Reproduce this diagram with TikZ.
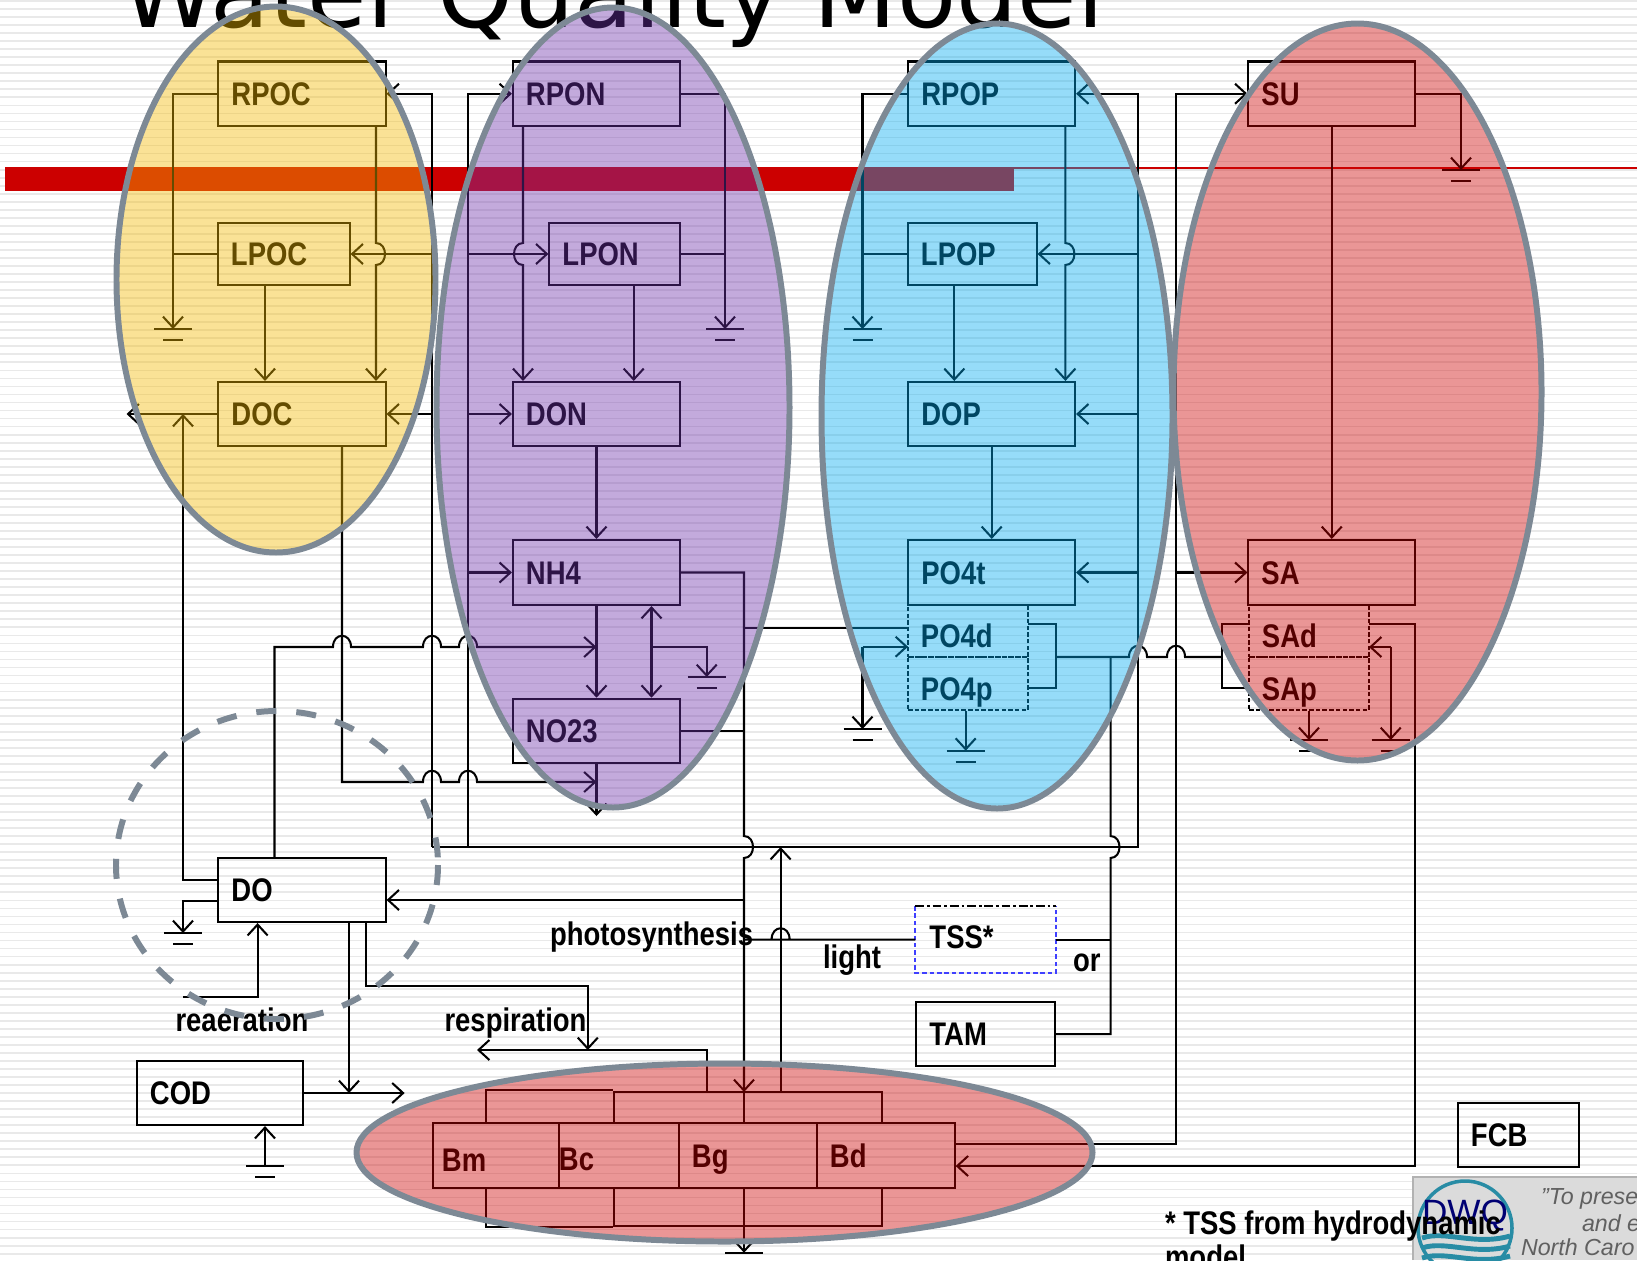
\documentclass[tikz,border=0pt]{standalone}
\usepackage{fontspec}
\usepackage{tikz}
\usetikzlibrary{calc,arrows.meta}
\setmainfont{Liberation Sans}
\newfontfamily\boxfont{Liberation Sans}[FakeStretch=.84]
\newfontfamily\titlefont{DejaVu Sans}

\definecolor{wqred}{HTML}{CC0000}
\definecolor{wqyellow}{RGB}{243,185,0}
\definecolor{wqpurple}{RGB}{110,49,171}
\definecolor{wqblue}{RGB}{0,170,240}
\definecolor{wqrim}{RGB}{125,137,149}
\definecolor{wqteal}{RGB}{40,140,165}

% small jumps of one wire over another
\newcommand{\hoph}[1]{-- ($(#1)+(-9,0)$) .. controls +(0,-15) and +(0,-15) .. ($(#1)+(9,0)$)}
\newcommand{\hopv}[2]{-- ($(#1)+(0,-11)$) .. controls +(#2,0) and +(#2,0) .. ($(#1)+(0,11)$)}

\tikzset{
    wqtext/.style={font=\boxfont\bfseries\fontsize{9.3}{7.4}\selectfont},
    wqbox/.style 2 args={draw, wqtext, inner xsep=0pt, inner ysep=0pt, text width=#1, minimum height=#2,
        text height=.235cm, text depth=0pt, execute at begin node=\hspace*{.13cm}},
    dashbox/.style 2 args={wqbox={#1}{#2}, dash pattern=on 1.3pt off .6pt, text height=.33cm},
    wqlabel/.style={wqtext, anchor=base west, inner sep=0pt},
    motto/.style={anchor=base west, inner sep=0pt, text=gray!75!black, font=\itshape\fontsize{6.6}{8}\selectfont},
    flow/.style={-{Straight Barb[length=3.1pt,width=5.7pt]}},
    flowboth/.style={{Straight Barb[length=3.1pt,width=5.7pt]}-{Straight Barb[length=3.1pt,width=5.7pt]}},
    blob/.style={draw=wqrim, line width=1.7pt, fill opacity=.41, draw opacity=1},
    stripe/.style={draw=gray!17, line width=.5pt},
    gnd/.pic={\draw (-19,0) -- (19,0); \draw (-10,11) -- (10,11);},
}

\begin{document}
\begin{tikzpicture}[x=.01cm, y=-.01cm, line width=.58pt]
    \useasboundingbox (0,0) rectangle (1637,1260);
    \clip (0,0) rectangle (1637,1260);

    % slide background
    \foreach \y in {1,9.03,...,1260} {\draw[stripe] (0,\y) -- (1637,\y);}
    \node[anchor=base west, inner sep=0pt, font=\titlefont\fontsize{27.5}{30}\selectfont] (title) at (120,27) {Water Quality Model};
    \fill[wqred] (5,167) rectangle (1014,191);
    \draw[wqred, line width=.6pt] (1014,168) -- (1637,168);

    % logo
    \fill[gray!28] (1413,1177) rectangle (1637,1260);
    \draw[gray!60, line width=.7pt] (1413,1260) -- (1413,1177) -- (1637,1177);
    \draw[wqteal, line width=1pt] (1465,1228) circle (47);
    \node[inner sep=0pt, text=blue!45!black, font=\fontsize{10}{10}\selectfont] (dwq) at (1465,1216) {DWQ};
    \foreach \y in {1238,1248,1258} {\draw[wqteal, line width=1.4pt] (1422,\y) .. controls (1445,\y-8) and (1475,\y+8) .. (1510,\y-2);}
    \node[motto] (motA) at (1540,1204) {"To prese};
    \node[motto] (motB) at (1581,1231) {and e};
    \node[motto] (motC) at (1520,1255) {North Caro};

    % boxes
    \node[wqbox={1.67cm}{.645cm}] (RPOC) at (302,93.75) {RPOC};
    \node[wqbox={1.315cm}{.62cm}] (LPOC) at (283.75,254) {LPOC};
    \node[wqbox={1.67cm}{.64cm}] (DOC) at (302,414) {DOC};
    \node[wqbox={1.67cm}{.645cm}] (RPON) at (596.5,93.75) {RPON};
    \node[wqbox={1.305cm}{.62cm}] (LPON) at (614.75,254) {LPON};
    \node[wqbox={1.67cm}{.64cm}] (DON) at (596.5,414) {DON};
    \node[wqbox={1.67cm}{.65cm}] (NH4) at (596.5,572.5) {NH4};
    \node[wqbox={1.67cm}{.645cm}] (NO23) at (596.5,731) {NO23};
    \node[wqbox={1.666cm}{.645cm}] (RPOP) at (991.7,93.75) {RPOP};
    \node[wqbox={1.285cm}{.62cm}] (LPOP) at (972.25,254) {LPOP};
    \node[wqbox={1.666cm}{.64cm}] (DOP) at (991.7,414) {DOP};
    \node[wqbox={1.666cm}{.65cm}] (PO4t) at (991.7,572.5) {PO4t};
    \node[dashbox={1.2cm}{.52cm}] (PO4d) at (968,631) {PO4d};
    \node[dashbox={1.2cm}{.53cm}] (PO4p) at (968,683.5) {PO4p};
    \node[wqbox={1.665cm}{.645cm}] (SU) at (1331.75,93.75) {SU};
    \node[wqbox={1.665cm}{.65cm}] (SA) at (1331.75,572.5) {SA};
    \node[dashbox={1.2cm}{.52cm}] (SAd) at (1309,631) {SAd};
    \node[dashbox={1.2cm}{.53cm}] (SAp) at (1309,683.5) {SAp};
    \node[wqbox={1.67cm}{.64cm}] (DO) at (302,890) {DO};
    \node[wqbox={1.66cm}{.64cm}] (COD) at (220,1093) {COD};
    \node[wqbox={1.38cm}{.65cm}, draw=none, text height=.18cm] (TSS) at (985.5,939.5) {TSS*};
    \draw[blue!75!white, dash pattern=on 1.3pt off .8pt] (TSS.north west) -- (TSS.south west) -- (TSS.south east) -- (TSS.north east);
    \draw[dash pattern=on 2.5pt off .8pt on .8pt off .8pt] (TSS.north west) -- (TSS.north east);
    \node[wqbox={1.38cm}{.645cm}] (TAM) at (985.5,1034) {TAM};
    \node[wqbox={1.21cm}{.64cm}] (FCB) at (1518.5,1134.7) {FCB};
    \node[wqbox={1.26cm}{.65cm}, text height=.32cm, execute at begin node=\hspace*{-.04cm}] (Bm) at (496,1155.5) {Bm};
    \node[wqbox={1.2cm}{.65cm}, text height=.29cm, execute at begin node=\hspace*{-.13cm}] (Bc) at (619,1155.5) {Bc};
    \node[wqbox={1.38cm}{.65cm}] (Bg) at (748,1155.5) {Bg};
    \node[wqbox={1.376cm}{.65cm}] (Bd) at (885.8,1155.5) {Bd};

    % labels
    \node[wqlabel] (photo) at (549,945.4) {photosynthesis};
    \node[wqlabel] (light) at (822,968.7) {light};
    \node[wqlabel] (or) at (1072,971) {or};
    \node[wqlabel] (reaeration) at (174.5,1031) {reaeration};
    \node[wqlabel] (respiration) at (443.5,1031) {respiration};
    \node[wqtext, anchor=north west, inner sep=0pt, align=left] (note) at (1164,1210) {* TSS from hydrodynamic\\model};

    % wiring points
    \coordinate (busC) at (432,93.75);
    \coordinate (busN) at (468,93.75);
    \coordinate (busP) at (1138,93.75);
    \coordinate (busS) at (1176,93.75);
    \coordinate (busBot) at (432,847);
    \coordinate (busA) at (744,572.5);
    \coordinate (busT) at (1110.5,657);
    \coordinate (busR) at (1415,1166);
    \coordinate (gndRPOC) at (173,329);
    \coordinate (gndRPON) at (725,329);
    \coordinate (gndRPOP) at (862.5,329);
    \coordinate (gndSU) at (1461,170);
    \coordinate (gndDen) at (706.7,677);
    \coordinate (gndPd) at (862.5,729);
    \coordinate (gndPp) at (965.7,750.7);
    \coordinate (gndSp) at (1309,740);
    \coordinate (gndSd) at (1390.7,740);
    \coordinate (gndDO) at (183,933);
    \coordinate (gndCOD) at (265,1166);
    \coordinate (gndBio) at (744,1252.7);
    \coordinate (dropC) at (376,254);
    \coordinate (dropN) at (523,254);
    \coordinate (dropP) at (1065.4,254);
    \coordinate (dropLC) at (265,300);
    \coordinate (dropLN) at (633.7,300);
    \coordinate (dropLP) at (954.3,300);
    \coordinate (dropNO) at (651.5,650);
    \coordinate (dropD) at (342,782);
    \coordinate (dropO) at (349,1093);
    \coordinate (wireDO) at (274.5,647);
    \coordinate (wireP) at (744,628);
    \coordinate (wireDOr) at (744,900);
    \coordinate (wireDOl) at (218,901);
    \coordinate (wireSAd) at (1369,624);
    \coordinate (wireSd) at (1369,647);
    \coordinate (wirePd) at (908,646.7);
    \coordinate (wireBd) at (954.6,1144);
    \coordinate (feedL) at (183,880);
    \coordinate (tailDOC) at (126.5,414);
    \coordinate (tailNO) at (596.5,816);
    \coordinate (tailCOD) at (404.6,1093);
    \coordinate (tailR) at (477,1050);
    \coordinate (reaer) at (183,997);
    \coordinate (dropR) at (257.6,997);
    \coordinate (respA) at (365.8,986);
    \coordinate (respB) at (587.8,1050);
    \coordinate (bioR) at (706.6,1092);
    \coordinate (bioA) at (744,1092);
    \coordinate (upB) at (780.6,1092);
    \coordinate (brkP) at (1056,657);
    \coordinate (brkPa) at (1028,624);
    \coordinate (brkPb) at (1028,688);
    \coordinate (brkS) at (1222,657);
    \coordinate (brkSa) at (1249,624);
    \coordinate (brkSb) at (1249,688);
    \coordinate (linkA) at (486,1090);
    \coordinate (linkB) at (612.6,1090);
    \coordinate (linkC) at (614.4,1092);
    \coordinate (linkD) at (882,1092);
    \coordinate (linkE) at (486,1227);
    \coordinate (linkF) at (612.6,1227);
    \coordinate (linkG) at (614.4,1226.4);
    \coordinate (linkH) at (882,1226.4);

    % carbon
    \draw[flow] (RPOC.west) -| (gndRPOC);
    \draw (LPOC.west) -- (gndRPOC |- LPOC.west);
    \draw[flow] (dropC |- RPOC.south) \hopv{dropC}{12} -- (dropC |- DOC.north);
    \draw[flow] (dropLC |- LPOC.south) -- (dropLC |- DOC.north);
    \draw[flow] (busBot) -- (busC) -- (RPOC.east);
    \draw[flow] (busC |- LPOC.east) -- (LPOC.east);
    \draw[flow] (busC |- DOC.east) -- (DOC.east);
    \draw[flow] (DOC.west) -- (tailDOC);
    \draw[flow] (dropD |- DOC.south) -- (dropD) \hoph{busC |- dropD} \hoph{busN |- dropD} -- (NO23.south |- dropD);

    % nitrogen
    \draw[flow] (RPON.east) -| (gndRPON);
    \draw (LPON.east) -- (gndRPON |- LPON.east);
    \draw[flow] (dropN |- RPON.south) \hopv{dropN}{-12} -- (dropN |- DON.north);
    \draw[flow] (dropLN |- LPON.south) -- (dropLN |- DON.north);
    \draw[flow] (busN |- busBot) -- (busN) -- (RPON.west);
    \draw[flow] (busN |- LPON.west) -- (LPON.west);
    \draw[flow] (busN |- DON.west) -- (DON.west);
    \draw[flow] (busN |- NH4.west) -- (NH4.west);
    \draw[flow] (DON.south) -- (NH4.north);
    \draw[flow] (NH4.south) -- (NO23.north);
    \draw[flowboth] (dropNO |- NH4.south) -- (dropNO |- NO23.north);
    \draw[flow] (dropNO |- wireDO) -| (gndDen);
    \draw[flow] (NO23.south) -- (tailNO);
    \draw[flow] (NH4.east) -- (busA) \hopv{busA |- busBot}{12} -- (bioA);
    \draw (bioA) -- (bioA |- Bg.north);
    \draw (NO23.east) -- (busA |- NO23.east);
    \draw (wireP) -- (wireP -| PO4d.west);

    % phosphorus
    \draw[flow] (RPOP.west) -| (gndRPOP);
    \draw (LPOP.west) -- (gndRPOP |- LPOP.west);
    \draw[flow] (dropP |- RPOP.south) \hopv{dropP}{12} -- (dropP |- DOP.north);
    \draw[flow] (dropLP |- LPOP.south) -- (dropLP |- DOP.north);
    \draw[flow] (busBot) -- (busP |- busBot) -- (busP) -- (RPOP.east);
    \draw[flow] (busP |- LPOP.east) -- (LPOP.east);
    \draw[flow] (busP |- DOP.east) -- (DOP.east);
    \draw[flow] (busP |- PO4t.east) -- (PO4t.east);
    \draw[flow] (DOP.south) -- (PO4t.north);
    \draw[flow] (gndPd |- wirePd) -- (wirePd);
    \draw[flow] (gndPd |- wirePd) -- (gndPd);
    \draw[flow] (gndPp |- PO4p.south) -- (gndPp);
    \draw (brkPa) -- (brkP |- brkPa) -- (brkP |- brkPb) -- (brkPb);
    \draw (brkP) \hoph{busP |- brkP} \hoph{busS |- brkP} -- (brkS);
    \draw (brkSa) -- (brkS |- brkSa) -- (brkS |- brkSb) -- (brkSb);
    \draw (busT) \hopv{busT |- busBot}{12} -- (busT |- TAM.east) -- (TAM.east);
    \draw (TSS.east) -- (busT |- TSS.east);

    % silica
    \draw[flow] (SU.east) -| (gndSU);
    \draw[flow] (SU.south) -- (SA.north);
    \draw[flow] (wireBd) -| (busS) -- (SU.west);
    \draw[flow] (busS |- SA.west) -- (SA.west);
    \draw[flow] (gndSp |- SAp.south) -- (gndSp);
    \draw[flow] (gndSd |- wireSd) -- (wireSd);
    \draw[flow] (gndSd |- wireSd) -- (gndSd);
    \draw[flow] (wireSAd) -| (busR) -- (busR -| Bd.east);

    % oxygen and COD
    \draw[flow] (wireDO |- DO.north) -- (wireDO) \hoph{dropD |- wireDO} \hoph{busC |- wireDO} \hoph{busN |- wireDO} -- (NH4.south |- wireDO);
    \draw[flow] (feedL -| DO.west) -- (feedL) -- (feedL |- DOC.west);
    \draw[flow] (wireDOl) -| (gndDO);
    \draw[flow] (reaer) -- (dropR) -- (dropR |- DO.south);
    \draw[flow] (wireDOr) -- (wireDOr -| DO.east);
    \draw[flow] (COD.east) -- (tailCOD);
    \draw[flow] (dropO |- DO.south) -- (dropO);
    \draw[flow] (gndCOD) -- (gndCOD |- COD.south);
    \draw[flow] (respA |- DO.south) -- (respA) -| (respB);
    \draw[flow] (bioR) |- (tailR);
    \draw[flow] (upB) -- (upB |- busBot);
    \draw (TSS.west) \hoph{upB |- TSS.west} -- (busA |- TSS.west);

    % algae
    \draw (linkA |- Bm.north) -- (linkA) -- (linkB);
    \draw (linkC |- Bc.north) -- (linkC) -- (linkD) -- (linkD |- Bd.north);
    \draw (linkE |- Bm.south) -- (linkE) -- (linkF);
    \draw (linkG |- Bc.south) -- (linkG) -- (linkH) -- (linkH |- Bd.south);
    \draw[flow] (gndBio |- Bg.south) -- (gndBio);

    % ground marks
    \foreach \p in {gndRPOC,gndRPON,gndRPOP,gndSU,gndDen,gndPd,gndPp,gndSp,gndSd,gndDO,gndCOD,gndBio} {\pic at (\p) {gnd};}

    % groups
    \draw[blob, fill=wqyellow] (276,279.5) ellipse (159.5 and 273);
    \draw[blob, fill=wqpurple] (613,407.5) ellipse (176.5 and 400);
    \draw[blob, fill=wqblue] (997,416) ellipse (175.5 and 392.5);
    \draw[blob, fill=wqred] (1357.5,392) ellipse (184 and 368.5);
    \draw[blob, fill=wqred] (724.5,1152.5) ellipse (368 and 89);
    \draw[wqrim, line width=1.7pt, dash pattern=on 5.7pt off 5.7pt] (277,865) ellipse (161 and 154);
\end{tikzpicture}
\end{document}
